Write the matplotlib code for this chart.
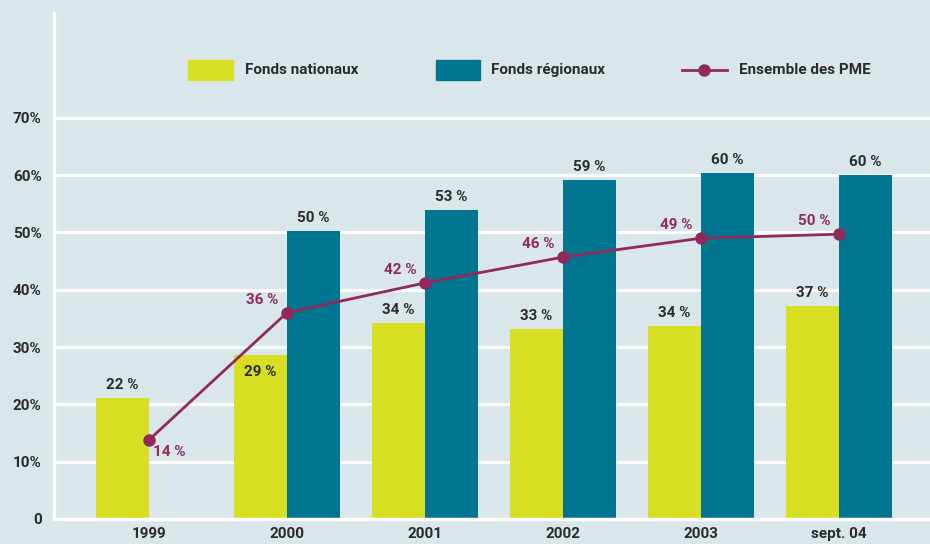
import matplotlib
matplotlib.use("Agg")
import matplotlib.pyplot as plt
from matplotlib import font_manager as fm
from matplotlib.patches import Rectangle
from matplotlib.lines import Line2D
import numpy as np

categories = ["1999", "2000", "2001", "2002", "2003", "sept. 04"]
nationaux = [21.1, 28.6, 34.2, 33.2, 33.7, 37.2]
nationaux_labels = ["22 %", "29 %", "34 %", "33 %", "34 %", "37 %"]
regionaux = [None, 50.3, 53.9, 59.2, 60.4, 60.0]
regionaux_labels = [None, "50 %", "53 %", "59 %", "60 %", "60 %"]
ensemble = [13.8, 36.0, 41.2, 45.7, 49.0, 49.7]
ensemble_labels = ["14 %", "36 %", "42 %", "46 %", "49 %", "50 %"]
yticks = [0, 10, 20, 30, 40, 50, 60, 70]
ytick_labels = ["0", "10%", "20%", "30%", "40%", "50%", "60%", "70%"]
legend_labels = ["Fonds nationaux", "Fonds régionaux", "Ensemble des PME"]

BG = "#d9e6ea"
YEL = "#d8df22"
TEAL = "#00758f"
PLUM = "#8e2b5c"
TXT = "#2b2b2b"

FS = 11
def FP(size=FS):
    return fm.FontProperties(family=["Roboto", "DejaVu Sans"], weight="bold",
                             size=size)

fig = plt.figure(figsize=(9.3, 5.44), dpi=100, facecolor=BG)
ax = fig.add_axes([54/930, 25/544, 876/930, 506/544], facecolor=BG)
ax.set_xlim(-0.688, 5.659)
ax.set_ylim(0, 88.3)

x = np.arange(len(categories))
w = 0.384
for yv in yticks[1:]:
    ax.axhline(yv, color="white", lw=2.2, zorder=1)

ax.bar(x, nationaux, width=-w, align="edge", color=YEL, zorder=2)
xr = [xi for xi, v in zip(x, regionaux) if v is not None]
vr = [v for v in regionaux if v is not None]
ax.bar(xr, vr, width=w, align="edge", color=TEAL, zorder=2)
ax.plot(x, ensemble, color=PLUM, lw=2, marker="o", ms=8, zorder=4)

for i, (v, lab) in enumerate(zip(nationaux, nationaux_labels)):
    if i == 1:
        ax.text(i - w/2, v - 1.8, lab, ha="center", va="top", fontproperties=FP(),
                color=TXT, zorder=5)
    else:
        ax.text(i - w/2, v + 1.0, lab, ha="center", va="bottom", fontproperties=FP(),
                color=TXT, zorder=5)
for i, (v, lab) in enumerate(zip(regionaux, regionaux_labels)):
    if v is None:
        continue
    ax.text(i + w/2, v + 1.0, lab, ha="center", va="bottom", fontproperties=FP(),
            color=TXT, zorder=5)
for i, (v, lab) in enumerate(zip(ensemble, ensemble_labels)):
    if i == 0:
        ax.text(i + 0.03, v - 0.8, lab, ha="left", va="top", fontproperties=FP(),
                color=PLUM, zorder=5)
    else:
        ax.text(i - 0.06, v + 1.0, lab, ha="right", va="bottom", fontproperties=FP(),
                color=PLUM, zorder=5)

ax.set_yticks(yticks)
ax.set_yticklabels(ytick_labels, color=TXT)
for t in ax.get_yticklabels():
    t.set_fontproperties(FP())
ax.set_xticks(x)
ax.set_xticklabels(categories, color=TXT)
for t in ax.get_xticklabels():
    t.set_fontproperties(FP())
ax.tick_params(axis="both", length=0)
ax.tick_params(axis="y", pad=9)
ax.tick_params(axis="x", pad=6)
for s in ["top", "right"]:
    ax.spines[s].set_visible(False)
ax.spines["left"].set_color("white")
ax.spines["left"].set_linewidth(2.5)
ax.spines["bottom"].set_color("white")
ax.spines["bottom"].set_linewidth(2.5)

# legend drawn in figure pixel coordinates
W, H = 930, 544
def fx(px): return px / W
def fy(py): return 1 - py / H
ly = 70
fig.patches.append(Rectangle((fx(188), fy(80)), 45/W, 20/H, color=YEL,
                             transform=fig.transFigure, figure=fig))
fig.text(fx(245), fy(ly), legend_labels[0], ha="left", va="center",
         fontproperties=FP(), color=TXT)
fig.patches.append(Rectangle((fx(436), fy(80)), 44/W, 20/H, color=TEAL,
                             transform=fig.transFigure, figure=fig))
fig.text(fx(491), fy(ly), legend_labels[1], ha="left", va="center",
         fontproperties=FP(), color=TXT)
fig.lines.append(Line2D([fx(682), fx(727)], [fy(ly), fy(ly)], color=PLUM, lw=2,
                        transform=fig.transFigure, figure=fig))
fig.lines.append(Line2D([fx(704)], [fy(ly)], color=PLUM, marker="o", ms=8,
                        transform=fig.transFigure, figure=fig))
fig.text(fx(739), fy(ly), legend_labels[2], ha="left", va="center",
         fontproperties=FP(), color=TXT)

fig.savefig("out.png", dpi=100, facecolor=BG)
